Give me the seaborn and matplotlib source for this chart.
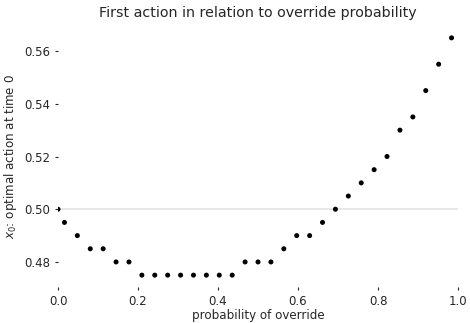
import numpy as np
import pandas as pd
import matplotlib
matplotlib.use("Agg")
import matplotlib.pyplot as plt
import seaborn as sns

sns.set_style("ticks")

# probability of override grid and optimal first action
override_prob = [0.0] + [(i + 0.5) / 31 for i in range(31)]
first_action = [0.500,
                0.495, 0.490, 0.485, 0.485, 0.480, 0.480, 0.475, 0.475,
                0.475, 0.475, 0.475, 0.475, 0.475, 0.475, 0.480, 0.480,
                0.480, 0.485, 0.490, 0.490, 0.495, 0.500, 0.505, 0.510,
                0.515, 0.520, 0.530, 0.535, 0.545, 0.555, 0.565]

df = pd.DataFrame({"p": override_prob, "x0": first_action})

fig = plt.figure(figsize=(4.7, 3.23), dpi=100)
ax = fig.add_axes([58 / 470, 1 - 287 / 323, 400 / 470, (287 - 26) / 323])

ax.axhline(0.5, color="#e6e6e6", linewidth=1.3, zorder=0)
sns.scatterplot(data=df, x="p", y="x0", ax=ax, color="black", s=13,
                edgecolor="none", legend=False)

ax.set_xlim(0, 1)
ax.set_xticks([0.0, 0.2, 0.4, 0.6, 0.8, 1.0])
ax.set_yticks([0.48, 0.50, 0.52, 0.54, 0.56])
ax.tick_params(labelsize=8.5, length=2.5, width=0.8, pad=3)
ax.set_xlabel("probability of override", fontsize=8.6, labelpad=1.2)
ax.set_ylabel("$x_0$: optimal action at time 0", fontsize=8.6)
ax.set_title("First action in relation to override probability", fontsize=10.3, pad=6.5)
sns.despine(ax=ax, left=True, bottom=True)

fig.savefig("out.png", dpi=100)
